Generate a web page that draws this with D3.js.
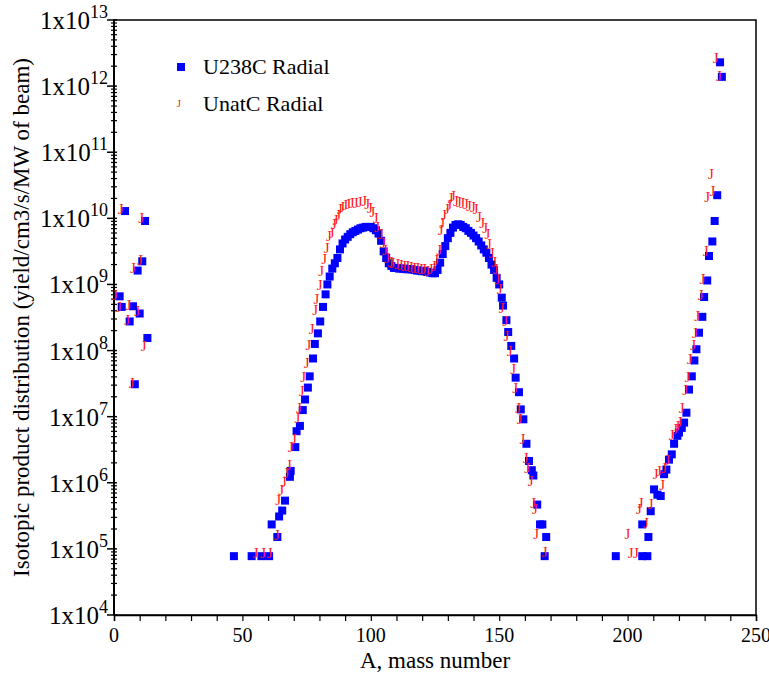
<!DOCTYPE html>
<html lang="en">
<head>
    <meta charset="UTF-8">
    <title>Isotopic product distribution</title>
    <style>
        html,body {
            margin : 0px;
            padding: 0px;
            background: #fff;
        }
        text { font-family: 'Liberation Serif', 'Times New Roman', serif; fill: #000; }
    </style>
    <script src="https://cdn.jsdelivr.net/npm/d3@7/dist/d3.min.js"></script>
</head>
<body>
<svg></svg>
<script>
    // [mass number A, log10(yield / cm3 / s / MW of beam)]
    var u238Radial = [
        [2.2,8.82],[3.0,8.66],[4.3,10.11],[6.1,8.44],[7.4,8.67],[8.1,7.49],[9.2,9.21],[10.0,8.56],[11.0,9.35],[12.1,9.96],[13.0,8.19],
        [46.7,4.89],[53.6,4.89],[57.4,4.89],[60.4,4.89],
        [61.4,5.37],[63.6,5.18],[64.3,5.49],[65.5,5.58],[66.6,5.73],[68.5,6.09],[68.8,6.18],[70.6,6.54],[71.1,6.78],[72.4,6.86],
        [73.5,7.10],[74.4,7.26],[75.5,7.44],[76.2,7.61],[77.5,7.88],[78.2,8.10],[79.4,8.26],[80.3,8.44],[81.4,8.66],[82.4,8.85],[83.1,9.00],
        [84,9.12],[85,9.24],[86,9.32],[87,9.40],[88,9.53],[89,9.62],[90,9.68],[91,9.72],[92,9.76],[93,9.79],[94,9.81],[95,9.83],
        [96,9.85],[97,9.86],[98,9.87],[99,9.87],[100,9.87],[101,9.85],[102,9.82],[103,9.77],[104,9.66],[105,9.50],[106,9.40],
        [107,9.32],[108,9.28],[109,9.25],[110,9.25],[111,9.24],[112,9.24],[113,9.24],[114,9.23],[115,9.23],[116,9.23],[117,9.22],
        [118,9.21],[119,9.21],[120,9.20],[121,9.20],[122,9.19],[123,9.18],[124,9.17],[125,9.17],[126,9.22],[127,9.33],[128,9.46],
        [129,9.58],[130,9.70],[131,9.78],[132,9.86],[133,9.90],[134,9.91],[135,9.90],[136,9.87],[137,9.85],[138,9.81],[139,9.78],
        [140,9.74],[141,9.70],[142,9.65],[143,9.59],[144,9.53],[145,9.48],[146,9.40],[147,9.30],[148,9.22],[149,9.10],[150,9.00],
        [151.0,8.80],[151.5,8.68],[152.8,8.46],[153.5,8.28],[154.7,8.07],[155.8,7.88],[156.4,7.59],[157.7,7.37],[158.4,7.11],
        [159.4,6.96],[160.6,6.59],[161.6,6.33],[162.7,6.19],[163.3,6.11],[164.8,5.67],[165.9,5.37],[166.8,5.37],[168.3,5.18],[167.7,4.89],
        [195.4,4.89],[205.7,4.89],[207.7,4.89],[208.1,5.18],[205.7,5.37],[209.0,5.57],[210.3,5.90],[211.6,5.82],[212.9,5.80],
        [214.2,6.13],[215.1,6.20],[216.1,6.35],[217.2,6.43],[218.1,6.59],[219.4,6.71],[220.0,6.76],[221.1,6.83],[222.0,6.91],
        [222.9,7.06],[223.9,7.41],[225.0,7.61],[226.0,7.85],[226.8,8.02],[227.8,8.27],[229.1,8.51],[229.8,8.81],[231.0,9.06],
        [231.7,9.43],[233.0,9.65],[233.9,9.96],[234.9,10.35],[236.0,12.36],[236.7,12.14]
    ]

    var unatCRadial = [
        [0.4,8.84],[1.9,8.66],[2.6,10.14],[5.1,8.47],[5.6,8.69],[6.9,7.52],[7.4,9.25],[9.0,8.60],[10.1,9.38],[10.6,10.01],[11.6,8.07],
        [55.2,4.94],[58.1,4.94],[60.6,4.94],
        [63.4,5.22],[63.9,5.75],[65.1,5.89],[66.2,6.01],[67.1,6.15],[68.1,6.28],[68.8,6.54],[70.1,6.66],[71.4,6.98],[72.0,7.13],
        [73.1,7.39],[73.7,7.61],[75.0,7.81],[75.7,8.09],[77.0,8.33],[78.3,8.62],[78.8,8.79],[80.1,9.00],[80.7,9.20],[81.8,9.39],
        [82.8,9.56],[83.7,9.73],[84.8,9.78],[85.6,9.92],[86.3,9.98],[87.3,10.06],[88.0,10.15],[88.9,10.18],[90.0,10.20],[91.2,10.22],
        [92.6,10.24],[94.1,10.24],[95.7,10.25],[97.4,10.27],[98.6,10.22],[99.7,10.16],[100.6,10.10],[101.9,10.01],[102.5,9.88],
        [103.8,9.76],[104.7,9.63],[105.5,9.53],[106.4,9.40],[107.7,9.34],[108.4,9.33],[110.3,9.31],[111.6,9.30],[112.9,9.29],
        [114.2,9.28],[115.5,9.27],[116.8,9.26],[118.1,9.25],[119.4,9.24],[120.7,9.23],[122.0,9.21],[123.3,9.24],[124.6,9.28],
        [125.5,9.38],[126.6,9.53],[127.2,9.83],[127.8,9.93],[128.5,10.06],[129.6,10.15],[130.5,10.21],[131.1,10.31],[132.0,10.34],
        [133.1,10.27],[134.3,10.25],[135.6,10.24],[137.0,10.22],[138.2,10.19],[139.8,10.17],[140.8,10.14],[142.1,10.03],[143.4,9.93],
        [144.5,9.86],[145.4,9.76],[146.0,9.61],[147.1,9.48],[148.0,9.35],[148.6,9.23],[149.3,9.08],[150.2,8.94],[151.0,8.65],
        [152.3,8.45],[152.8,8.22],[154.1,7.99],[155.4,7.72],[156.2,7.44],[157.4,7.13],[158.0,6.97],[159.0,6.66],[160.3,6.38],
        [160.9,6.22],[162.3,6.03],[163.2,5.70],[163.9,5.60],[164.4,5.23],[167.7,4.96],
        [199.9,5.23],[201.2,4.94],[203.2,4.94],[204.4,5.60],[205.1,5.70],[207.1,5.39],[209.0,5.68],[210.9,6.13],[212.2,6.18],
        [213.5,5.97],[214.2,6.23],[215.5,6.35],[217.2,6.72],[218.5,6.81],[219.4,6.86],[220.3,6.93],[221.1,7.13],[222.4,7.41],
        [223.4,7.61],[224.2,7.87],[225.5,8.09],[226.2,8.27],[227.1,8.52],[228.5,8.84],[229.1,9.08],[230.4,9.51],[231.0,10.32],
        [233.0,10.41],[232.4,10.67],[234.3,12.43],[235.6,12.15]
    ]

    var seriesNames = ['U238C Radial', 'UnatC Radial']
    var xTicks = [0, 50, 100, 150, 200, 250]
    var yDecades = [4, 5, 6, 7, 8, 9, 10, 11, 12, 13]
    var xTitle = 'A, mass number'
    var yTitle = 'Isotopic product distribution (yield/cm3/s/MW of beam)'

    var W = 769, H = 674
    var M = {left: 114, top: 20, right: 13, bottom: 59}
    var PW = W - M.left - M.right, PH = H - M.top - M.bottom

    var svg = d3.select('svg').attr('width', W).attr('height', H)
    var g = svg.append('g').attr('transform', 'translate(' + M.left + ',' + M.top + ')')

    var x = d3.scaleLinear().domain([0, 250]).range([0, PW])
    var y = d3.scaleLog().domain([1e4, 1e13]).range([PH, 0])

    // frame
    g.append('rect').attr('width', PW).attr('height', PH)
        .attr('fill', 'none').attr('stroke', '#000').attr('stroke-width', 1.5)

    // x axis: ticks every 10 pointing down, labels on the 50s
    var xAxis = d3.axisBottom(x).tickValues(d3.range(0, 251, 10)).tickSize(6).tickFormat('')
    var xg = g.append('g').attr('transform', 'translate(0,' + PH + ')').call(xAxis)
    xg.select('.domain').attr('stroke-width', 1.5)
    xg.selectAll('.tick line').attr('stroke-width', 1.2)
    xg.selectAll('.xlab').data(xTicks).enter().append('text')
        .attr('class', 'xlab')
        .attr('x', x).attr('y', 27)
        .attr('text-anchor', 'middle')
        .style('font-size', '20px')
        .text(function(d){ return d })

    // y axis: decades with minor log ticks
    var yg = g.append('g')
    yg.append('line').attr('y1', 0).attr('y2', PH).attr('stroke', '#000').attr('stroke-width', 2)
    var minor = []
    yDecades.slice(0, -1).forEach(function(e){
        for (var k = 2; k < 10; k++) minor.push(k * Math.pow(10, e))
    })
    yg.selectAll('.minor').data(minor).enter().append('line')
        .attr('class', 'minor')
        .attr('x1', -3).attr('x2', 3)
        .attr('y1', y).attr('y2', y)
        .attr('stroke', '#000').attr('stroke-width', 1.2)
    yg.selectAll('.major').data(yDecades).enter().append('line')
        .attr('class', 'major')
        .attr('x1', -7).attr('x2', 3)
        .attr('y1', function(e){ return y(Math.pow(10, e)) })
        .attr('y2', function(e){ return y(Math.pow(10, e)) })
        .attr('stroke', '#000').attr('stroke-width', 1.5)
    var ylab = yg.selectAll('.ylab').data(yDecades).enter().append('text')
        .attr('class', 'ylab')
        .attr('x', -6)
        .attr('y', function(e){ return y(Math.pow(10, e)) + 9 })
        .attr('text-anchor', 'end')
        .style('font-size', '25px')
    ylab.append('tspan').text('1x10')
    ylab.append('tspan').attr('dy', -11).style('font-size', '18px').text(function(e){ return e })

    // axis titles
    svg.append('text')
        .attr('x', M.left + PW / 2).attr('y', H - 6)
        .attr('text-anchor', 'middle')
        .style('font-size', '23px')
        .text(xTitle)
    svg.append('text')
        .attr('transform', 'translate(29,' + (M.top + PH / 2) + ') rotate(-90)')
        .attr('text-anchor', 'middle')
        .style('font-size', '23px')
        .text(yTitle)

    // U238C: blue squares
    var pts = g.append('g')
    pts.selectAll('.sq').data(u238Radial).enter().append('rect')
        .attr('class', 'sq')
        .attr('x', function(d){ return x(d[0]) - 4 })
        .attr('y', function(d){ return y(Math.pow(10, d[1])) - 4 })
        .attr('width', 8).attr('height', 8)
        .attr('fill', '#0000ff')

    // UnatC: red J glyphs
    pts.selectAll('.jj').data(unatCRadial).enter().append('text')
        .attr('class', 'jj')
        .attr('x', function(d){ return x(d[0]) })
        .attr('y', function(d){ return y(Math.pow(10, d[1])) })
        .attr('dy', '0.35em')
        .attr('text-anchor', 'middle')
        .style('font-size', '15px')
        .style('fill', '#ff1a1a')
        .text('J')

    // legend
    var lg = svg.append('g').attr('transform', 'translate(181,67)')
    lg.append('rect').attr('x', -4).attr('y', -4).attr('width', 8).attr('height', 8).attr('fill', '#0000ff')
    lg.append('text').attr('x', 22).attr('y', 7).style('font-size', '22px').text(seriesNames[0])
    lg.append('text').attr('x', -2).attr('y', 36).attr('dy', '0.35em').attr('text-anchor', 'middle')
        .style('font-size', '11px').style('fill', '#ff1a1a').text('J')
    lg.append('text').attr('x', 22).attr('y', 44).style('font-size', '22px').text(seriesNames[1])
</script>
</body>
</html>
